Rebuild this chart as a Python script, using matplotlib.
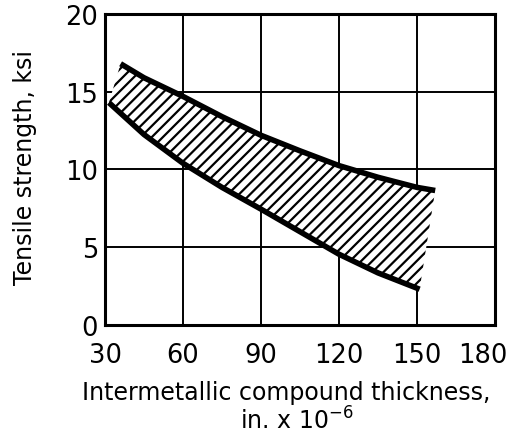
import matplotlib
matplotlib.use("Agg")
import matplotlib.pyplot as plt
from matplotlib.transforms import ScaledTranslation

plt.rcParams['font.family'] = ['DejaVu Sans']
plt.rcParams['hatch.linewidth'] = 1.6

# Upper bound curve
upper_x = [36, 45, 60, 75, 90, 105, 120, 135, 150, 157]
upper_y = [16.8, 15.9, 14.7, 13.4, 12.2, 11.2, 10.25, 9.5, 8.85, 8.65]
# Lower bound curve
lower_x = [31.5, 45, 60, 75, 90, 105, 120, 135, 151]
lower_y = [14.3, 12.25, 10.4, 8.85, 7.45, 6.0, 4.55, 3.35, 2.3]

xticks = [30, 60, 90, 120, 150, 180]
yticks = [0, 5, 10, 15, 20]

fig = plt.figure(figsize=(5.11, 4.35), dpi=100)
ax = fig.add_axes([0.2055, 0.2506, 0.7632, 0.7149])

poly_x = upper_x + lower_x[::-1]
poly_y = upper_y + lower_y[::-1]
ax.fill(poly_x, poly_y, facecolor='white', edgecolor='black', hatch='///', linewidth=0, zorder=2)

ax.plot(upper_x, upper_y, color='black', lw=4.0, solid_capstyle='butt', zorder=3)
ax.plot(lower_x, lower_y, color='black', lw=4.0, solid_capstyle='butt', zorder=3)

ax.set_xlim(30, 180)
ax.set_ylim(0, 20)
ax.set_xticks(xticks)
ax.set_yticks(yticks)
ax.set_xticklabels([str(v) for v in xticks], fontsize=18.5)
ax.set_yticklabels([str(v) for v in yticks], fontsize=18.5)
ax.tick_params(axis='x', length=0, pad=12)
ax.tick_params(axis='y', length=0, pad=5)
ax.grid(True, color='black', lw=1.4)
ax.set_axisbelow(True)
for s in ax.spines.values():
    s.set_linewidth(2.2)

# shift last x tick label left so it fits, as in the reference
lbl = ax.get_xticklabels()[-1]
lbl.set_transform(lbl.get_transform() + ScaledTranslation(-12 / 100, 0, fig.dpi_scale_trans))

fig.text(0.049, 0.614, 'Tensile strength, ksi', fontsize=17, rotation=90, ha='center', va='center')
fig.text(0.561, 0.0805, 'Intermetallic compound thickness,', fontsize=17, ha='center', va='baseline')
fig.text(0.580, 0.0115, 'in. x 10$^{-6}$', fontsize=17, ha='center', va='baseline')

fig.savefig('out.png', dpi=100)
